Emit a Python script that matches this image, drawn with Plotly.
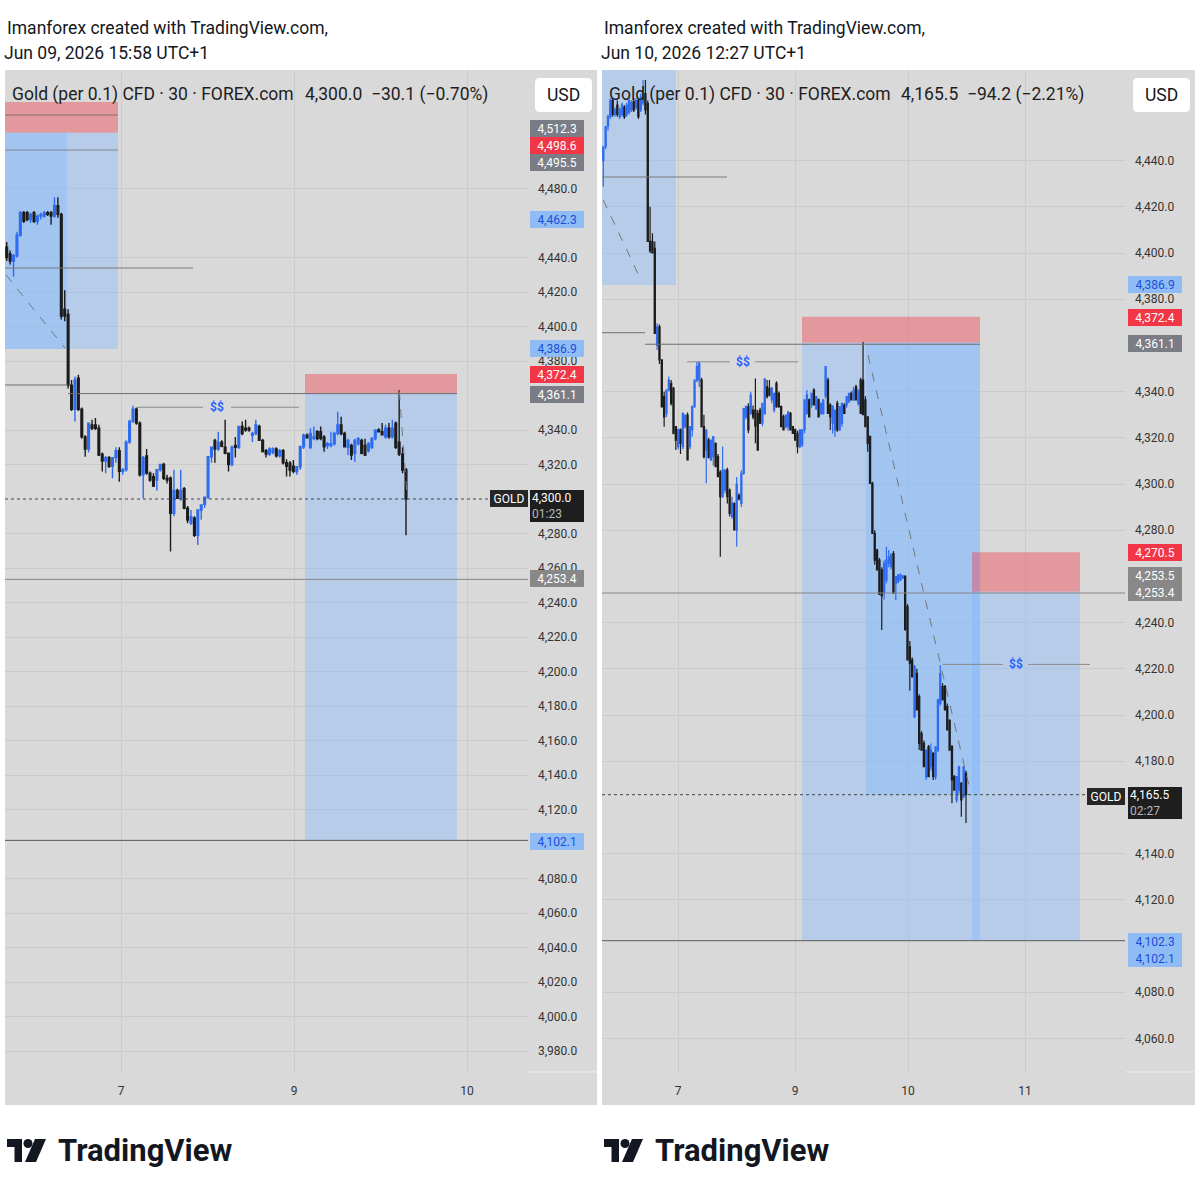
import plotly.graph_objects as go

# ---------------- DATA ----------------
# Left chart (Jun 09, 2026 15:58) - 30 min candles
L_open = [4446,4442,4438,4441,4453,4466,4466,4462,4466,4461,
          4464,4464,4466,4466,4464,4470,4465,4410,4407,4366,
          4352,4370,4352,4336,4329,4343,4343,4341,4326,4322,
          4324,4319,4324,4328,4316,4317,4333,4345,4352,4344,
          4314,4325,4315,4313,4311,4317,4320,4312,4312,4291.7,
          4305,4300.4,4306,4294.6,4286,4289,4279,4293.6,4297,4301,
          4324.5,4334,4329,4333,4330,4326.5,4320,4331,4330,4342,
          4341,4341,4337,4338,4342,4334,4328,4326,4327,4329,
          4325,4328,4321,4320.7,4319,4315.8,4318.7,4330.3,4337,4330,
          4335,4339,4339,4336,4331,4331,4332,4338,4343,4338,
          4330,4331,4326.5,4332,4334,4331,4328,4330,4335,4340,
          4339,4336,4341,4336,4344,4333,4326,4317]
L_high = [4449,4444,4442,4455,4467,4467,4467,4466,4467,4465,
          4466,4467,4467,4467,4475,4475,4466,4421,4410,4369,
          4371,4372,4353,4337,4344,4346,4347,4343,4327,4325,
          4325,4324,4330,4330,4318,4334,4346,4354,4353,4345,
          4325,4329,4316,4315,4317,4320,4321,4314,4313,4317,
          4306,4317,4307,4296,4293.6,4290,4294,4296.5,4301.4,4325,
          4330,4335,4339,4334,4346,4327,4331,4336,4342,4345,
          4346,4342,4339,4346,4343,4335,4329,4330,4330,4330,
          4329,4329,4323,4322,4322.6,4319,4331,4338,4338,4341,
          4342,4340,4342,4337,4333,4339,4339,4350.6,4347.7,4339,
          4335,4332,4335,4336,4335,4335,4333,4336,4340,4341,
          4344,4343,4344,4346,4345,4363,4330,4318]
L_low = [4438,4436,4429,4440,4452,4460,4461,4460,4460,4459,
         4462,4463,4464,4459,4463,4463,4404,4403,4364,4351,
         4345,4351,4335,4324.5,4327,4340,4340,4325,4316,4315,
         4318,4312,4321,4310,4314,4316,4332,4344,4343,4313,
         4300.5,4314,4310,4307,4305,4316,4311,4309,4269.5,4290,
         4300,4299,4294,4286,4285,4278,4273.3,4288,4295,4300,
         4321,4321,4328,4330,4326,4316,4319,4324,4329,4337,
         4339,4339,4333,4337,4334,4327,4324,4325,4326,4324,
         4324,4320,4313,4313,4315,4314,4317,4329,4335,4329,
         4334,4334,4334,4327.4,4329,4330,4331,4337,4337,4330,
         4325.5,4322.6,4321.6,4331,4326,4325,4327,4329,4334,4338.5,
         4337,4335,4335,4335,4329,4325,4315,4279]
L_close = [4440,4438,4441,4453,4466,4461,4462,4465,4461,4464,
           4465,4466,4465,4464,4470,4465,4406,4406,4366,4352,
           4369,4352,4336,4329,4344,4341,4341,4325.5,4322,4324,
           4319,4324,4328,4316,4317,4333,4345,4352,4344,4314,
           4324,4315,4311,4307.5,4317,4320,4312,4311,4291.7,4305,
           4300.4,4305,4294.6,4287.8,4289.7,4279,4293.6,4296.5,4301,4324.5,
           4330,4329,4333,4330.5,4326.5,4320,4330,4330,4342,4338,
           4340,4340,4338,4343,4334,4327.5,4326,4329,4329,4325,
           4328,4321,4319,4316.8,4316,4318.7,4330.3,4337,4335.5,4338,
           4336,4335,4335,4330.3,4332,4332,4338,4343,4338,4330.3,
           4334,4325.5,4334,4335,4326.5,4325.5,4332,4335,4340,4339,
           4337.2,4341,4336,4341,4330,4326,4316.8,4300]

# Right chart (Jun 10, 2026 12:27) - 30 min candles
R_open = [4440,4446,4455,4459,4466,4460,4464,4459,4460,4463,
          4460,4461,4462,4465.5,4463,4466,4462,4465,4469,4464.8,
          4405,4404.9,4402,4360,4368,4353.7,4337.8,4330.6,4340.7,4343.6,
          4341.4,4324.8,4316.2,4323.4,4316.2,4324.8,4329.8,4316.2,4323.4,4333.5,
          4345,4345,4345,4324.8,4314.7,4319,4310.4,4311.8,4317.6,4311.8,
          4305,4294.5,4297.4,4306,4297.4,4285.9,4291.6,4280,4295,4291.6,
          4304.6,4329,4333.5,4330.6,4332,4332,4330.6,4332,4326.3,4330.6,
          4342.1,4341.4,4336.4,4332,4343.6,4339.2,4333.5,4329.1,4324.8,4324.8,
          4330.6,4324.8,4323.4,4321.9,4316.2,4317,4323.4,4330.6,4336.4,4334.2,
          4340.7,4332.6,4336.4,4330.6,4330.6,4338,4345,4334.2,4326.3,4323.4,
          4334.9,4323.4,4326.3,4334.2,4334.2,4335.6,4339.2,4336.4,4342.1,4334.9,
          4345,4345,4336.4,4329.1,4320.5,4300.3,4278.6,4271.4,4267.1,4262.8,
          4252.7,4258.4,4265.7,4264.2,4269.9,4257,4257.7,4258.4,4259.2,4259.9,
          4246.9,4229.5,4223.8,4199.3,4218,4208,4192.1,4187.7,4173.3,4186.2,
          4177.6,4183.3,4173.3,4184.8,4205,4212.3,4212.3,4203.6,4197.8,4186.2,
          4173.3,4163.2,4167.5,4170.4,4164.6,4174.7]
R_high = [4446,4455,4460,4467,4467,4463,4466,4463,4465,4464,
          4465,4467,4466,4467,4467,4467,4469,4474.9,4474.9,4466,
          4420,4408.5,4405,4369.6,4369,4354,4340,4341,4346.5,4345,
          4342,4325,4324,4324,4331,4330,4331,4325,4334,4345,
          4353,4353,4346,4330,4323.4,4320,4319,4320.5,4318,4313,
          4306,4316.2,4306.1,4307,4298,4294.5,4292,4303,4296,4306,
          4333,4334,4335,4339.9,4334,4345.7,4332,4333,4335,4345.5,
          4345,4345,4342,4339.2,4344.5,4340,4334,4330,4330,4331.2,
          4331.2,4325,4324,4323,4323.4,4323.4,4336.4,4340.7,4337,4339.2,
          4341.4,4338,4337,4334.9,4336.4,4350.8,4346,4335,4334.2,4332,
          4336,4333.5,4334.9,4335,4337.8,4339.2,4340,4342.1,4343,4340.7,
          4346,4361.5,4338,4329.1,4321,4301,4280,4272,4268,4264,
          4267,4272.8,4271.4,4270,4271,4260,4261,4261.4,4260.6,4260.6,
          4248,4232,4225,4221.6,4220,4209,4193,4189,4185,4187,
          4187.7,4184,4186.2,4207,4221.6,4213.7,4213,4205,4198,4187,
          4174,4173.3,4178,4171,4177.6,4176]
R_low = [4428.7,4445,4453,4458,4459,4459,4459,4458,4459,4458,
         4459,4460,4461,4461,4462,4458,4461,4464,4460,4404.9,
         4400,4399.9,4365,4358,4352,4333,4324.8,4329,4340,4334,
         4321.5,4314.7,4315,4313,4315,4324,4310.4,4315,4320.5,4333,
         4344,4342,4324.5,4311,4300.3,4311,4310,4308,4307.5,4303.2,
         4268.5,4294,4296,4291.6,4285.9,4285,4280,4272.9,4293,4290,
         4304,4328,4322,4330,4328,4317.6,4314.7,4326,4325,4330,
         4337,4338,4335,4331,4333,4333,4324.8,4323.4,4324,4323,
         4323.4,4321.9,4319,4313.3,4315.5,4316,4322,4330,4329.1,4333,
         4334,4332,4329.1,4330,4330,4337,4330.6,4323.4,4321.9,4320.5,
         4322.6,4323,4324.8,4330.6,4333,4335,4336.4,4336,4336.4,4334,
         4330.6,4329.9,4324.8,4314,4300.3,4278.6,4265,4262.8,4252,4236.8,
         4250,4257,4264,4263,4252.7,4249.8,4257,4258,4259,4236.8,
         4223.8,4210.6,4216.5,4198.6,4202,4184.8,4184.8,4177.6,4172,4173.3,
         4176,4171.9,4172,4184,4204,4206.5,4202.2,4193.5,4184.8,4161.8,
         4167.5,4162,4166,4156,4164,4153.2]
R_close = [4446,4454.7,4459,4466,4460,4462,4460,4462,4464,4459,
           4464,4466,4465,4462,4466,4459,4467.5,4469,4462,4405,
           4401,4400,4365.2,4368,4353.7,4333.5,4329.1,4340.7,4345,4334.9,
           4321.9,4319,4323.4,4317.6,4330.6,4329.8,4310.4,4324.8,4333.5,4345,
           4350.8,4352.2,4324.8,4311.8,4323.4,4311.5,4319,4320.5,4307.5,4303.2,
           4294.5,4306,4306.1,4294.5,4287.3,4291.6,4280.1,4300,4293.5,4304.6,
           4332.6,4333.5,4323.4,4338.5,4329.1,4325,4314.7,4326.3,4334.9,4345.5,
           4337.8,4338.5,4341.4,4339.2,4333.5,4333.5,4324.8,4323.4,4329.8,4331.2,
           4323.4,4321.9,4319,4316.2,4323.4,4323.4,4336.4,4338.5,4329.1,4339.2,
           4334.2,4337.8,4329.1,4334.9,4336.4,4350.8,4330.6,4329.1,4333.5,4332,
           4323.4,4333.5,4334.9,4330.6,4337.8,4339.2,4336.4,4340.7,4336.4,4340.7,
           4330.6,4330,4324.8,4317.6,4300.3,4278.6,4267,4262.8,4252.2,4251.6,
           4265.7,4267.1,4268.5,4269.2,4252.7,4259.9,4260.6,4260.6,4260.1,4236.8,
           4223.8,4222.4,4216.5,4220.9,4202.2,4187.7,4184.8,4177.6,4184.8,4173.3,
           4184.8,4173.3,4186.2,4206.5,4217.9,4206.5,4202.2,4193.5,4184.8,4171.9,
           4167.5,4173.3,4177.6,4163.2,4177.6,4165.5]

L_days = ["7", "9", "10"]
R_days = ["7", "9", "10", "11"]
# price-scale values that stay visible (the rest sit under the coloured price tags)
L_ticks = [3980, 4000, 4020, 4040, 4060, 4080, 4120, 4140, 4160, 4180, 4200, 4220, 4240,
           4260, 4280, 4320, 4340, 4380, 4400, 4420, 4440, 4480]
R_ticks = [4060, 4080, 4120, 4140, 4180, 4200, 4220, 4240, 4280, 4300, 4320, 4340,
           4380, 4400, 4420, 4440]

# ---------------- LAYOUT CONSTANTS ----------------
W, H = 1200, 1200
BG = "#d9d9d9"
GRID = "#cbcbcb"
UP_C = "#2e6bf0"
DN_C = "#1c1c1c"
BLUE_FILL = "rgba(130,185,255,0.40)"
RED_FILL = "rgba(242,54,69,0.40)"
FONT = "Roboto"

def fx(px):
    return px / W

def fy(py):
    return 1 - py / H

L_X0, L_X1 = 5, 528
R_X0, R_X1 = 602, 1125
Y_TOP, Y_BOT = 70, 1072

L_FIRST, L_LAST = 6.7, 406.0
R_FIRST, R_LAST = 603.3, 966.0
nL, nR = len(L_close), len(R_close)
sL = (L_LAST - L_FIRST) / (nL - 1)
sR = (R_LAST - R_FIRST) / (nR - 1)

def xl(px):
    return (px - L_FIRST) / sL

def xr(px):
    return (px - R_FIRST) / sR

def pl(py):
    return 4300 + (499 - py) / 1.725

def pr(py):
    return 4300 + (484 - py) / 2.31

L_DAY_PX = [121, 294, 467]
R_DAY_PX = [678, 795, 908, 1025]

fig = go.Figure()
fig.add_trace(go.Candlestick(
    x=list(range(nL)), open=L_open, high=L_high, low=L_low, close=L_close,
    xaxis="x", yaxis="y", whiskerwidth=0, showlegend=False, hoverinfo="skip",
    increasing=dict(line=dict(color=UP_C, width=1.4), fillcolor=UP_C),
    decreasing=dict(line=dict(color=DN_C, width=1.4), fillcolor=DN_C)))
fig.add_trace(go.Candlestick(
    x=list(range(nR)), open=R_open, high=R_high, low=R_low, close=R_close,
    xaxis="x2", yaxis="y2", whiskerwidth=0, showlegend=False, hoverinfo="skip",
    increasing=dict(line=dict(color=UP_C, width=1.2), fillcolor=UP_C),
    decreasing=dict(line=dict(color=DN_C, width=1.2), fillcolor=DN_C)))

axis_font = dict(family=FONT, size=12, color="#333333")
common_x = dict(showgrid=True, gridcolor=GRID, gridwidth=1, zeroline=False, showline=False,
                ticks="", tickfont=axis_font, rangeslider=dict(visible=False), fixedrange=True,
                ticklabelstandoff=10)
common_y = dict(side="right", tickformat=",.1f", showgrid=True, gridcolor=GRID, gridwidth=1,
                zeroline=False, showline=False, ticks="", tickfont=axis_font, fixedrange=True,
                ticklabelstandoff=9)

fig.update_layout(
    width=W, height=H, margin=dict(l=0, r=0, t=0, b=0),
    paper_bgcolor="white", plot_bgcolor=BG, showlegend=False,
    xaxis=dict(domain=[fx(L_X0), fx(L_X1)], range=[xl(L_X0), xl(L_X1)], anchor="y",
               tickvals=[xl(p) for p in L_DAY_PX], ticktext=L_days, **common_x),
    yaxis=dict(domain=[fy(Y_BOT), fy(Y_TOP)], range=[pl(Y_BOT), pl(Y_TOP)], anchor="x",
               tickvals=L_ticks, **common_y),
    xaxis2=dict(domain=[fx(R_X0), fx(R_X1)], range=[xr(R_X0), xr(R_X1)], anchor="y2",
                tickvals=[xr(p) for p in R_DAY_PX], ticktext=R_days, **common_x),
    yaxis2=dict(domain=[fy(Y_BOT), fy(Y_TOP)], range=[pr(Y_BOT), pr(Y_TOP)], anchor="x2",
                tickvals=R_ticks, **common_y),
)

shapes = []
ann = []

def rect(xref, yref, x0, x1, y0, y1, fill, layer="between"):
    shapes.append(dict(type="rect", xref=xref, yref=yref, x0=x0, x1=x1, y0=y0, y1=y1,
                       fillcolor=fill, line=dict(width=0), layer=layer))

def line(xref, yref, x0, y0, x1, y1, color="#777777", width=1, dash="solid", layer="above"):
    shapes.append(dict(type="line", xref=xref, yref=yref, x0=x0, y0=y0, x1=x1, y1=y1,
                       line=dict(color=color, width=width, dash=dash), layer=layer))

def prect(x0, y0, x1, y1, fill, layer="below"):
    shapes.append(dict(type="rect", xref="paper", yref="paper", x0=fx(x0), x1=fx(x1),
                       y0=fy(y1), y1=fy(y0), fillcolor=fill, line=dict(width=0), layer=layer))

def rounded(x0, y0, x1, y1, r, fill):
    p = (f"M {fx(x0+r)} {fy(y0)} L {fx(x1-r)} {fy(y0)} Q {fx(x1)} {fy(y0)} {fx(x1)} {fy(y0+r)} "
         f"L {fx(x1)} {fy(y1-r)} Q {fx(x1)} {fy(y1)} {fx(x1-r)} {fy(y1)} "
         f"L {fx(x0+r)} {fy(y1)} Q {fx(x0)} {fy(y1)} {fx(x0)} {fy(y1-r)} "
         f"L {fx(x0)} {fy(y0+r)} Q {fx(x0)} {fy(y0)} {fx(x0+r)} {fy(y0)} Z")
    shapes.append(dict(type="path", xref="paper", yref="paper", path=p, fillcolor=fill,
                       line=dict(width=0), layer="above"))

def poly(pts, fill):
    p = "M " + " L ".join(f"{fx(x)} {fy(y)}" for x, y in pts) + " Z"
    shapes.append(dict(type="path", xref="paper", yref="paper", path=p, fillcolor=fill,
                       line=dict(width=0), layer="above"))

def text(px, py, s, size=17.5, color="#131722", anchor="left", bold=False, family=FONT):
    ann.append(dict(xref="paper", yref="paper", x=fx(px), y=fy(py), text=s, showarrow=False,
                    xanchor=anchor, yanchor="middle",
                    font=dict(family=family, size=size, color=color,
                              weight="bold" if bold else "normal")))

def tag(cx, cy, s, bg, fg="white", w=50, h=13):
    ann.append(dict(xref="paper", yref="paper", x=fx(cx), y=fy(cy), text=s, showarrow=False,
                    xanchor="center", yanchor="middle", bgcolor=bg, bordercolor=bg,
                    borderpad=1, width=w, height=h, align="center",
                    font=dict(family=FONT, size=12, color=fg)))

# panel backgrounds
prect(5, 70, 597, 1105, BG)
prect(602, 70, 1195, 1105, BG)
line("paper", "paper", fx(528), fy(1072), fx(597), fy(1072), "#ececec")
line("paper", "paper", fx(1125), fy(1072), fx(1195), fy(1072), "#ececec")

# ---------- left drawings ----------
rect("x", "y", xl(5), xl(118), 4512.3, 4530.1, RED_FILL)
line("x", "y", xl(5), 4522.6, xl(118), 4522.6, "#8a6a6e")
rect("x", "y", xl(5), xl(118), 4386.9, 4512.3, BLUE_FILL)
rect("x", "y", xl(5), xl(67), 4386.9, 4512.3, BLUE_FILL)
line("x", "y", xl(5), 4502.3, xl(118), 4502.3, "#7f8790")
line("x", "y", xl(5), 4433.9, xl(193), 4433.9, "#7a7a7a")
line("x", "y", xl(6), 4429.9, xl(65), 4387.5, "#777777", dash="dash")
line("x", "y", xl(5), 4366.1, xl(68), 4366.1, "#6f6f6f")
line("x", "y", xl(68), 4361.1, xl(457), 4361.1, "#6f6f6f")
line("x", "y", xl(137), 4353.2, xl(203), 4353.2, "#8a8a8a")
line("x", "y", xl(231), 4353.2, xl(299), 4353.2, "#8a8a8a")
rect("x", "y", xl(305), xl(457), 4361.1, 4372.4, RED_FILL)
rect("x", "y", xl(305), xl(457), 4102.1, 4361.1, BLUE_FILL)
line("x", "y", xl(399.3), 4362.5, xl(407), 4302.0, "#777777", dash="dash")
line("x", "y", xl(5), 4300.0, xl(490), 4300.0, "#444444", dash="dot")
line("x", "y", xl(5), 4253.4, xl(528), 4253.4, "#858585")
line("x", "y", xl(5), 4102.1, xl(528), 4102.1, "#5a5a5a")
ann.append(dict(xref="x", yref="y", x=xl(217), y=4353.2, text="<b>$$</b>", showarrow=False,
                font=dict(family=FONT, size=12, color="#2962ff")))

# ---------- right drawings ----------
rect("x2", "y2", xr(602), xr(676), 4386.1, 4500, BLUE_FILL)
line("x2", "y2", xr(602), 4432.9, xr(727), 4432.9, "#7a7a7a")
line("x2", "y2", xr(603.3), 4422.9, xr(641.7), 4387.6, "#777777", dash="dash")
line("x2", "y2", xr(602), 4365.5, xr(645), 4365.5, "#6f6f6f")
line("x2", "y2", xr(645), 4360.5, xr(980), 4360.5, "#6f6f6f")
rect("x2", "y2", xr(802), xr(980), 4361.1, 4372.4, RED_FILL)
rect("x2", "y2", xr(802), xr(980), 4102.3, 4361.1, BLUE_FILL)
rect("x2", "y2", xr(866), xr(980), 4165.5, 4361.1, BLUE_FILL)
rect("x2", "y2", xr(972), xr(1080), 4253.4, 4270.5, RED_FILL)
rect("x2", "y2", xr(972), xr(1080), 4102.3, 4253.4, BLUE_FILL)
line("x2", "y2", xr(602), 4252.8, xr(1125), 4252.8, "#858585")
line("x2", "y2", xr(687), 4352.9, xr(730), 4352.9, "#8a8a8a")
line("x2", "y2", xr(755), 4352.9, xr(798), 4352.9, "#8a8a8a")
line("x2", "y2", xr(942.7), 4221.9, xr(1003), 4221.9, "#8a8a8a")
line("x2", "y2", xr(1028), 4221.9, xr(1090), 4221.9, "#8a8a8a")
line("x2", "y2", xr(868), 4355.8, xr(970), 4167.5, "#777777", dash="dash")
line("x2", "y2", xr(602), 4165.5, xr(1087), 4165.5, "#444444", dash="dot")
line("x2", "y2", xr(602), 4102.3, xr(1125), 4102.3, "#5a5a5a")
ann.append(dict(xref="x2", yref="y2", x=xr(742.7), y=4352.9, text="<b>$$</b>", showarrow=False,
                font=dict(family=FONT, size=12, color="#2962ff")))
ann.append(dict(xref="x2", yref="y2", x=xr(1016), y=4221.9, text="<b>$$</b>", showarrow=False,
                font=dict(family=FONT, size=12, color="#2962ff")))

# ---------- header texts ----------
text(5, 28, "Imanforex created with TradingView.com,")
text(2, 53, "Jun 09, 2026 15:58 UTC+1")
text(602, 28, "Imanforex created with TradingView.com,")
text(599, 53, "Jun 10, 2026 12:27 UTC+1")

text(10, 94, "Gold (per 0.1) CFD · 30 · FOREX.com", color="#1e1e1e")
text(303, 94, "4,300.0  −30.1 (−0.70%)", color="#1e1e1e")
text(607, 94, "Gold (per 0.1) CFD · 30 · FOREX.com", color="#1e1e1e")
text(899, 94, "4,165.5  −94.2 (−2.21%)", color="#1e1e1e")

rounded(535, 78, 592, 112, 5, "white")
rounded(1133, 78, 1190, 112, 5, "white")
text(563.5, 95, "USD", anchor="center", color="#131722")
text(1161.5, 95, "USD", anchor="center", color="#131722")

# ---------- price-scale tags ----------
GRAY = "#7a7d86"
GRAY2 = "#888888"
RED = "#f23645"
LBLUE = "#90bcf6"
LBLUE_T = "#1a4fd6"
LCX, RCX = 556.5, 1155
for cy, s, bg, fg in [(128, "4,512.3", GRAY, "white"), (145, "4,498.6", RED, "white"),
                      (162, "4,495.5", GRAY, "white"), (219, "4,462.3", LBLUE, LBLUE_T),
                      (349, "4,386.9", LBLUE, LBLUE_T), (374, "4,372.4", RED, "white"),
                      (394, "4,361.1", GRAY, "white"), (579, "4,253.4", GRAY2, "white"),
                      (841, "4,102.1", LBLUE, LBLUE_T)]:
    tag(LCX, cy, s, bg, fg)
for cy, s, bg, fg in [(284, "4,386.9", LBLUE, LBLUE_T), (317, "4,372.4", RED, "white"),
                      (343, "4,361.1", GRAY, "white"), (552, "4,270.5", RED, "white"),
                      (575, "4,253.5", GRAY2, "white"), (592, "4,253.4", GRAY2, "white"),
                      (941, "4,102.3", LBLUE, LBLUE_T), (958, "4,102.1", LBLUE, LBLUE_T)]:
    tag(RCX, cy, s, bg, fg)

# current price tags
ann.append(dict(xref="paper", yref="paper", x=fx(LCX), y=fy(506), showarrow=False,
                text="4,300.0<br><span style='color:#b8b8b8'>01:23</span>",
                xanchor="center", yanchor="middle", bgcolor="#1e1e1e", bordercolor="#1e1e1e",
                borderpad=1, width=50, height=28, align="left",
                font=dict(family=FONT, size=12, color="white")))
tag(508.5, 499, "GOLD", "#262626", "white", w=34, h=13)
ann.append(dict(xref="paper", yref="paper", x=fx(RCX), y=fy(803), showarrow=False,
                text="4,165.5<br><span style='color:#b8b8b8'>02:27</span>",
                xanchor="center", yanchor="middle", bgcolor="#1e1e1e", bordercolor="#1e1e1e",
                borderpad=1, width=50, height=28, align="left",
                font=dict(family=FONT, size=12, color="white")))
tag(1105.5, 796, "GOLD", "#262626", "white", w=34, h=13)

# ---------- TradingView logos ----------
def logo(ox, oy):
    poly([(ox, oy), (ox + 15, oy), (ox + 15, oy + 23), (ox + 7.5, oy + 23),
          (ox + 7.5, oy + 8), (ox, oy + 8)], "#131722")
    shapes.append(dict(type="circle", xref="paper", yref="paper",
                       x0=fx(ox + 16.5), x1=fx(ox + 25.5), y0=fy(oy + 9), y1=fy(oy),
                       fillcolor="#131722", line=dict(width=0), layer="above"))
    poly([(ox + 28, oy), (ox + 39, oy), (ox + 29, oy + 23), (ox + 18, oy + 23)], "#131722")

logo(7, 1139)
logo(604, 1139)
text(56, 1150, "TradingView", size=31, color="#131722", bold=True)
text(653, 1150, "TradingView", size=31, color="#131722", bold=True)

fig.update_layout(shapes=shapes, annotations=ann)
fig.write_html("out.html")
